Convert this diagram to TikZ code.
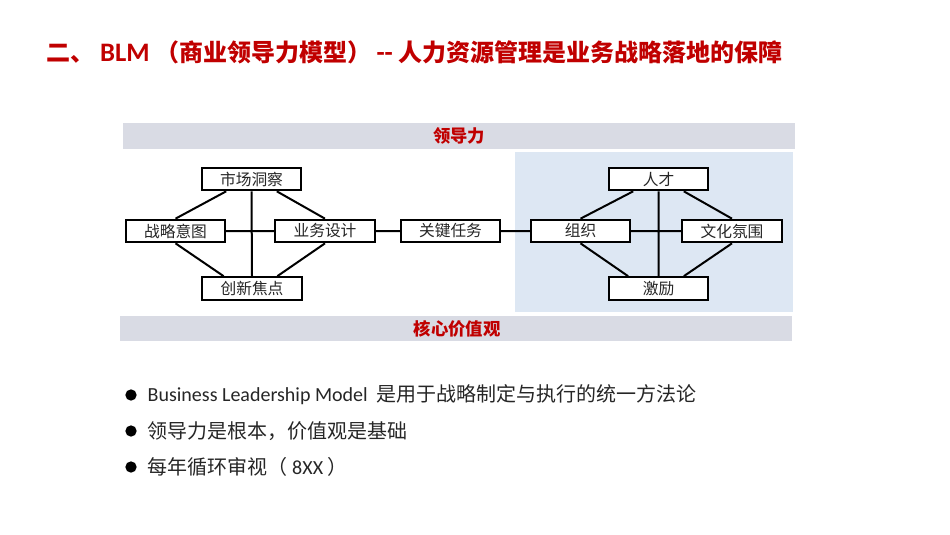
\documentclass[tikz,border=0pt]{standalone}
\usepackage{fontspec}
\setmainfont{Carlito}
\newfontfamily\cjk{Noto Sans CJK SC}
\usetikzlibrary{positioning,calc}
\definecolor{blmred}{HTML}{C00000}
\definecolor{bargray}{HTML}{D9DBE4}
\definecolor{panelblue}{HTML}{DDE7F3}

\begin{document}
\begin{tikzpicture}[x=0.75pt,y=-0.75pt,
  link/.style={line width=1.5pt},
  bartext/.style={text=blmred,font=\cjk\bfseries\fontsize{13}{15}\selectfont},
  bulletdot/.style={circle,fill=black,inner sep=0pt,minimum size=8.5pt},
  bullettext/.style={anchor=west,text=black!85,font=\fontsize{15}{17}\selectfont}]
\useasboundingbox (0,0) rectangle (950,535);
%title
\node[anchor=west,text=blmred,font=\bfseries\fontsize{18}{21}\selectfont] (title) at (42,52)
  {{\cjk 二、} {\fontsize{20}{21}\selectfont BLM} {\cjk （商业领导力模型）} {\fontsize{20}{21}\selectfont -{}-} {\cjk 人力资源管理是业务战略落地的保障}};

\fill[panelblue] (515,152) rectangle (793,312);
\fill[bargray] (123,123) rectangle (795,149);
\fill[bargray] (120,316) rectangle (792,341);
\node[bartext] (ldl) at (459,136) {领导力};
\node[bartext] (hxjzg) at (457,329) {核心价值观};

\node[bulletdot] (d1) at (131,395) {};
\node[bulletdot] (d2) at (131,431) {};
\node[bulletdot] (d3) at (131,467) {};
\node[bullettext] (t1) at (143,395) {Business Leadership Model\ \ {\cjk 是用于战略制定与执行的统一方法论}};
\node[bullettext] (t2) at (143,431) {\cjk 领导力是根本，价值观是基础};
\node[bullettext] (t3) at (143,467) {{\cjk 每年循环审视（} 8XX {\cjk ）}};

\tikzstyle{every node}=[draw,line width=1.5pt,fill=white,minimum width=74.5pt,minimum height=17pt,inner sep=0pt,text=black!85,font=\cjk\fontsize{11.8}{13}\selectfont];

\draw node (scdc) at (251.5,179) {市场洞察};
\draw node (zlyt) at (175.5,231) {战略意图};
\draw node (ywsj) at (325,231) {业务设计};
\draw node (cxjd) at (252,288.5) {创新焦点};
\draw node (gjrw) at (450.5,231) {关键任务};
\draw node (rc) at (658.5,179) {人才};
\draw node (zz) at (580.5,231) {组织};
\draw node (whfw) at (732,231) {文化氛围};
\draw node (jl) at (658.5,288.5) {激励};

\draw[link] ($(scdc.south west)!0.25!(scdc.south east)$) -- (zlyt.north)
  ($(scdc.south west)!0.75!(scdc.south east)$) -- (ywsj.north)
  (zlyt.south) -- ($(cxjd.north west)!0.22!(cxjd.north east)$)
  (ywsj.south) -- ($(cxjd.north west)!0.75!(cxjd.north east)$)
  (scdc.south) -- (cxjd.north)
  (zlyt.east) -- (ywsj.west)
  (ywsj.east) -- (gjrw.west)
  (gjrw.east) -- (zz.west);
\draw[link] ($(rc.south west)!0.25!(rc.south east)$) -- (zz.north)
  ($(rc.south west)!0.75!(rc.south east)$) -- (whfw.north)
  (zz.south) -- ($(jl.north west)!0.2!(jl.north east)$)
  (whfw.south) -- ($(jl.north west)!0.75!(jl.north east)$)
  (rc.south) -- (jl.north)
  (zz.east) -- (whfw.west);
\end{tikzpicture}
\end{document}
